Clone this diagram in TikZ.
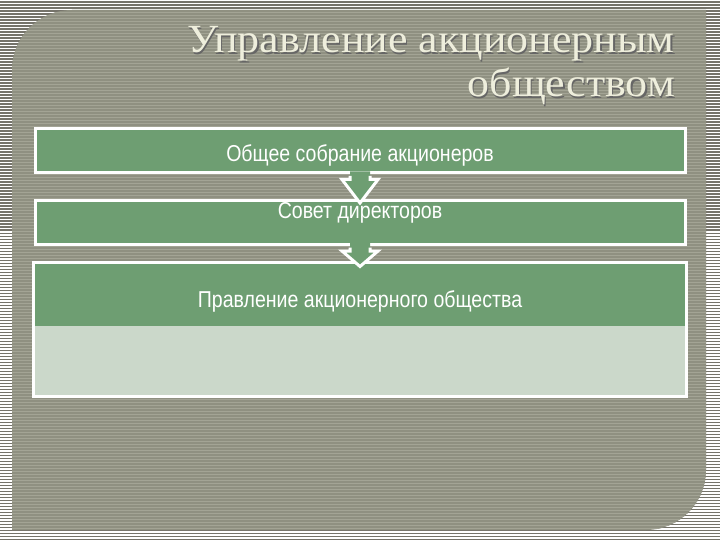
\documentclass[tikz,border=0pt]{standalone}
\usepackage{fontspec}
\setmainfont{Liberation Serif}
\newfontfamily\narrowsans[FakeStretch=0.85]{Liberation Sans}
\newfontfamily\titleserif[FakeStretch=1.1]{Liberation Serif}
\usetikzlibrary{calc}
\definecolor{boxgreen}{HTML}{6E9E72}
\definecolor{palegreen}{HTML}{CBD8CA}
\definecolor{panelgray}{HTML}{8F9081}
\definecolor{panelline}{HTML}{A3A495}
\definecolor{outerline}{HTML}{75736A}
\definecolor{titlecol}{HTML}{EEEEDC}
\tikzset{
  box/.style={draw=white, line width=3pt, fill=boxgreen, minimum width=650pt, minimum height=44pt, inner sep=0pt},
  txt/.style={text=white, font=\narrowsans\fontsize{23}{27}\selectfont, inner sep=0pt},
  ttl/.style={text=titlecol, font=\titleserif\fontsize{40}{48}\selectfont, anchor=base east, inner sep=0pt},
  ttlshadow/.style={ttl, text=black!60},
  blockarrow/.style={draw=white, line width=3pt, line join=miter},
}
% panel with two rounded corners
\newcommand\panelpath{(12,530) -- (12,70) arc[start angle=180, end angle=270, radius=60] -- (706,10) -- (706,470) arc[start angle=0, end angle=90, radius=60] -- cycle}
% block arrow from one box down to the next
\newcommand\downarr[2]{
    \fill[boxgreen] ($(#1.south)+(-10,-3)$) -- ($(#1.south)+(-10,5)$) -- ($(#1.south)+(-18,5)$) -- ($(#2.north)+(0,4)$) -- ($(#1.south)+(18,5)$) -- ($(#1.south)+(10,5)$) -- ($(#1.south)+(10,-3)$) -- cycle;
    \draw[blockarrow] ($(#1.south)+(-10,1.5)$) -- ($(#1.south)+(-10,5)$) -- ($(#1.south)+(-18,5)$) -- ($(#2.north)+(0,4)$) -- ($(#1.south)+(18,5)$) -- ($(#1.south)+(10,5)$) -- ($(#1.south)+(10,1.5)$);
}
\begin{document}
\begin{tikzpicture}[x=1pt, y=-1pt]
    \useasboundingbox (0,0) rectangle (720,540);
    % striped background
    \fill[white] (0,0) rectangle (720,540);
    \foreach \s in {0,3,...,537}
        \fill[outerline] (0,\s+1.5) rectangle (720,\s+3);
    \fill[panelgray] \panelpath;
    \begin{scope}
        \clip \panelpath;
        \foreach \s in {0,3,...,537}
            \fill[panelline] (0,\s) rectangle (720,\s+1);
    \end{scope}
    % title
    \node[ttlshadow] (titleAshadow) at (676.2,54.2) {Управление акционерным};
    \node[ttl] (titleA) at (675,53) {Управление акционерным};
    \node[ttlshadow] (titleBshadow) at (676.2,98.2) {обществом};
    \node[ttl] (titleB) at (675,97) {обществом};
    % boxes
    \node[box] (gen) at (360,151) {};
    \node[txt] (gentxt) at (360,155) {Общее собрание акционеров};
    \node[box] (board) at (360,222.5) {};
    \node[txt] (boardtxt) at (360,213) {Совет директоров};
    \node[box, draw=none, fill=none, minimum height=131pt] (exec) at (360,329.5) {};
    \coordinate (split) at (0,326);
    \fill[boxgreen] (exec.north west) rectangle (exec.east |- split);
    \fill[palegreen] (exec.west |- split) rectangle (exec.south east);
    \draw[white, line width=3pt] (exec.north west) rectangle (exec.south east);
    \node[txt] (exectxt) at (360,301) {Правление акционерного общества};
    % arrows
    \downarr{gen}{board}
    \downarr{board}{exec}
\end{tikzpicture}
\end{document}
